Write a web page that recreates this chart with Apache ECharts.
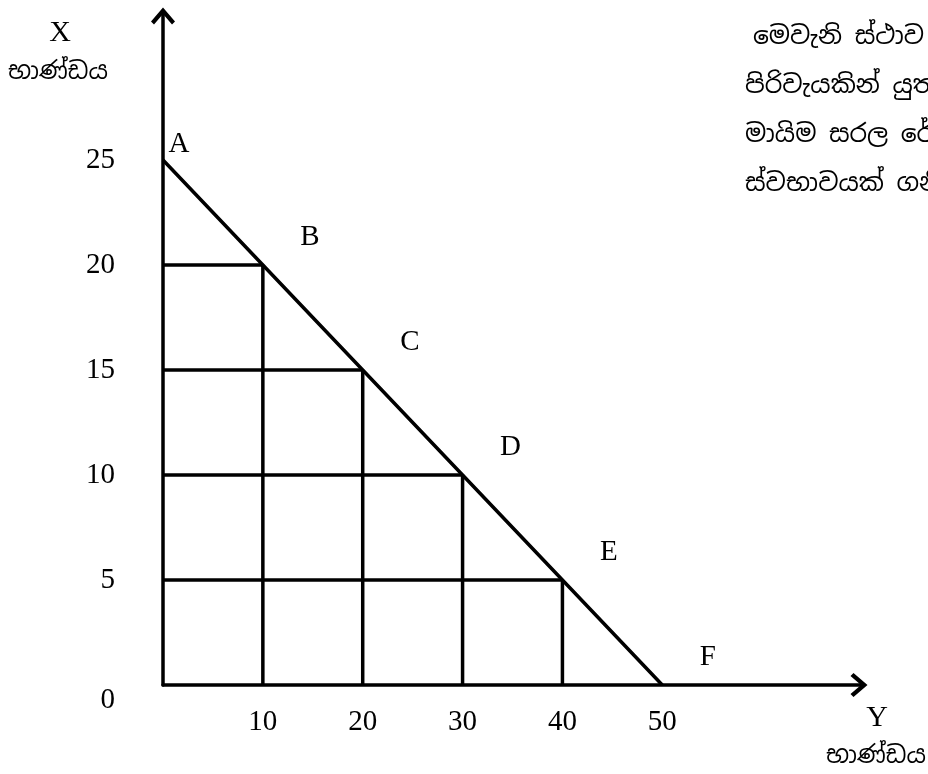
<!DOCTYPE html>
<html>
<head>
<meta charset="utf-8">
<script src="https://cdn.jsdelivr.net/npm/echarts@6/dist/echarts.min.js"></script>
<style>
  html, body { margin: 0; padding: 0; background: #fff; }
  #chart { width: 928px; height: 774px; }
</style>
</head>
<body>
<div id="chart"></div>
<script>
// Y භාණ්ඩය (horizontal) and X භාණ්ඩය (vertical) quantities at points A..F
const pointNames = ['A', 'B', 'C', 'D', 'E', 'F'];
const yGoods = [0, 10, 20, 30, 40, 50];
const xGoods = [25, 20, 15, 10, 5, 0];

// tick labels shown on each axis
const xTicks = [10, 20, 30, 40, 50];
const yTicks = [0, 5, 10, 15, 20, 25];

const noteLines = ['මෙවැනි ස්ථාව', 'පිරිවැයකින් යුත', 'මායිම සරල රේ', 'ස්වභාවයක් ගනි'];
const goodsWord = 'භාණ්ඩය';

const serif = '"Liberation Serif", "DejaVu Serif", serif';
const sinhala = '"Noto Sans Sinhala", "Iskoola Pota", "Noto Sans", sans-serif';
const black = '#000';
const lw = 3.5;

// open chevron arrow head (points up, echarts turns it along the axis)
const chevron = 'path://M0,0 L12,14 L9,17 L0,6.5 L-9,17 L-12,14 Z';

const ppf = yGoods.map((v, i) => [v, xGoods[i]]);

// drop lines from each inner point to both axes
const dropSeries = [];
for (let i = 1; i < pointNames.length - 1; i++) {
    dropSeries.push({
        type: 'line',
        data: [[0, xGoods[i]], [yGoods[i], xGoods[i]], [yGoods[i], 0]],
        symbol: 'none',
        lineStyle: { color: black, width: lw },
        silent: true,
        z: 2
    });
}

// the side note, one text per line (runs off the right edge like the original)
const noteGraphics = noteLines.map((t, i) => ({
    type: 'text',
    left: i === 0 ? 753 : 745,
    top: 25 + i * 49,
    style: { text: t, font: '25px ' + sinhala, fill: black }
}));

const chart = echarts.init(document.getElementById('chart'));

chart.setOption({
    backgroundColor: '#fff',
    animation: false,
    grid: { left: 163, right: 66, top: 13, bottom: 89 },
    xAxis: {
        type: 'value',
        min: 0, max: 70, interval: 10,
        axisLine: {
            lineStyle: { color: black, width: lw },
            symbol: ['none', chevron],
            symbolSize: [24, 18],
            symbolOffset: [0, -3]
        },
        axisTick: { show: false },
        splitLine: { show: false },
        axisLabel: {
            margin: 23,
            fontFamily: serif,
            fontSize: 29,
            color: black,
            formatter: v => xTicks.includes(v) ? String(v) : ''
        }
    },
    yAxis: {
        type: 'value',
        min: 0, max: 32, interval: 5,
        axisLine: {
            lineStyle: { color: black, width: lw },
            symbol: ['none', chevron],
            symbolSize: [24, 18],
            symbolOffset: [0, -3]
        },
        axisTick: { show: false },
        splitLine: { show: false },
        axisLabel: {
            margin: 48,
            fontFamily: serif,
            fontSize: 29,
            lineHeight: 30,
            color: black,
            // the 0 sits a little below the origin in the drawing
            formatter: v => !yTicks.includes(v) ? '' : (v === 0 ? '\n0' : String(v))
        }
    },
    graphic: [
        { type: 'text', x: 60, y: 33, style: { text: 'X', font: '30px ' + serif, fill: black, align: 'center', verticalAlign: 'middle' } },
        { type: 'text', x: 58, y: 72, style: { text: goodsWord, font: '24px ' + sinhala, fill: black, align: 'center', verticalAlign: 'middle' } },
        { type: 'text', x: 877, y: 718, style: { text: 'Y', font: '30px ' + serif, fill: black, align: 'center', verticalAlign: 'middle' } },
        { type: 'text', x: 876, y: 756, style: { text: goodsWord, font: '24px ' + sinhala, fill: black, align: 'center', verticalAlign: 'middle' } },
        ...noteGraphics
    ],
    series: [
        {
            type: 'line',
            data: ppf,
            symbol: 'circle',
            symbolSize: 1,
            itemStyle: { color: black },
            lineStyle: { color: black, width: lw },
            label: {
                show: true,
                position: 'right',
                fontFamily: serif,
                fontSize: 29,
                color: black,
                formatter: p => pointNames[p.dataIndex]
            },
            labelLayout: p => p.dataIndex === 0 ? { dx: 0, dy: -16 } : { dx: 32, dy: -28 },
            z: 3
        },
        ...dropSeries
    ]
});
</script>
</body>
</html>
